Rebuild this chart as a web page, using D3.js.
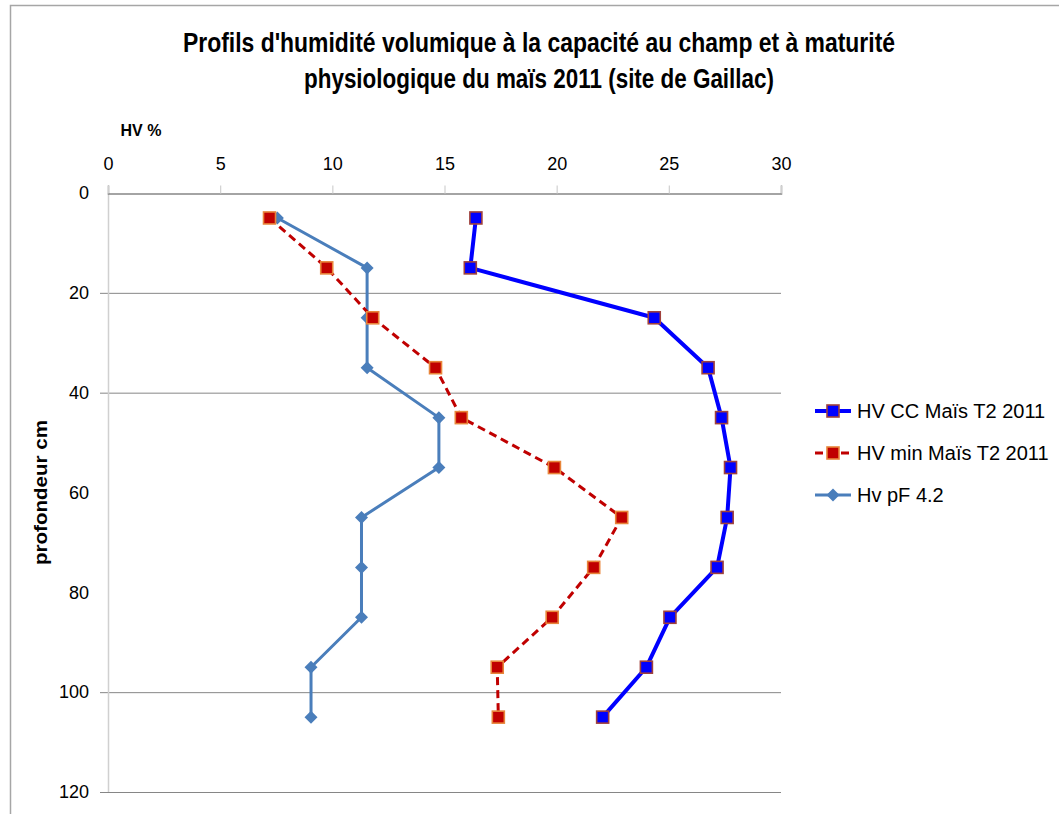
<!DOCTYPE html>
<html>
<head>
<meta charset="utf-8">
<script src="https://cdn.jsdelivr.net/npm/d3@7"></script>
<style>
  html, body { margin: 0; padding: 0; background: #fff; }
  svg { display: block; }
  text { font-family: "Liberation Sans Narrow", "Liberation Sans", Arial, sans-serif; fill: #000; }
</style>
</head>
<body>
<svg id="chart" width="1059" height="814"></svg>
<script>
// Soil depth (cm) of each measurement
const depths = [5, 15, 25, 35, 45, 55, 65, 75, 85, 95, 105];

// Volumetric water content (%) profiles
const hvCC   = [16.4, 16.15, 24.35, 26.75, 27.35, 27.75, 27.6, 27.15, 25.05, 24.0, 22.05];
const hvMin  = [7.2, 9.75, 11.8, 14.6, 15.75, 19.9, 22.9, 21.65, 19.8, 17.35, 17.4];
const hvPF42 = [7.55, 11.55, 11.55, 11.55, 14.75, 14.75, 11.3, 11.3, 11.3, 9.05, 9.05];

const seriesNames = ["HV CC Maïs T2 2011", "HV min Maïs T2 2011", "Hv pF 4.2"];

const xTicks = [0, 5, 10, 15, 20, 25, 30];
const yTicks = [0, 20, 40, 60, 80, 100, 120];
const yGrid  = [20, 40, 100, 120];

const titleLines = [
  "Profils d'humidité volumique à la capacité au champ et à maturité",
  "physiologique du maïs 2011 (site de Gaillac)"
];

const svg = d3.select("#chart");

// outer frame of the chart area
svg.append("path")
  .attr("d", "M10.5,814 V5.5 H1059")
  .attr("fill", "none").attr("stroke", "#a6a6a6").attr("stroke-width", 1.5);

const x = d3.scaleLinear().domain([0, 30]).range([108, 781]);
const y = d3.scaleLinear().domain([0, 120]).range([193, 792]);

// horizontal gridlines
svg.append("g").selectAll("line").data(yGrid).join("line")
  .attr("x1", 100).attr("x2", x(30))
  .attr("y1", d => y(d) + 0.5).attr("y2", d => y(d) + 0.5)
  .attr("stroke", "#868686").attr("stroke-width", 1);

// left vertical axis line
svg.append("line")
  .attr("x1", x(0) + 0.5).attr("x2", x(0) + 0.5)
  .attr("y1", y(0)).attr("y2", y(120))
  .attr("stroke", "#d0d0d0").attr("stroke-width", 1.5);

// top x axis
const xAxis = d3.axisTop(x).tickValues(xTicks).tickSize(8).tickPadding(16).tickFormat(d3.format("d"));
const gx = svg.append("g").attr("transform", `translate(0,${y(0) + 0.5})`).call(xAxis);
gx.select(".domain").attr("stroke", "#868686").attr("stroke-width", 1.5);
gx.selectAll(".tick line").attr("stroke", "#d0d0d0").attr("stroke-width", 1.2);
gx.selectAll(".tick text").attr("font-size", 18).attr("fill", "#000")
  .style("font-family", "\"Liberation Sans Narrow\", \"Liberation Sans\", sans-serif");

// left y axis labels (depth increasing downward)
const yAxis = d3.axisLeft(y).tickValues(yTicks).tickSize(0).tickPadding(19).tickFormat(d3.format("d"));
const gy = svg.append("g").attr("transform", `translate(${x(0)},0)`).call(yAxis);
gy.select(".domain").remove();
gy.selectAll(".tick text").attr("font-size", 18).attr("fill", "#000")
  .style("font-family", "\"Liberation Sans Narrow\", \"Liberation Sans\", sans-serif");

// titles
svg.append("g").selectAll("text").data(titleLines).join("text")
  .attr("x", 539).attr("y", (d, i) => 52 + i * 36)
  .attr("text-anchor", "middle")
  .attr("font-size", 27).attr("font-weight", "bold")
  .attr("textLength", (d, i) => i === 0 ? 712 : 470)
  .attr("lengthAdjust", "spacingAndGlyphs")
  .text(d => d);

svg.append("text").attr("x", 141).attr("y", 136)
  .attr("text-anchor", "middle").attr("font-size", 16).attr("font-weight", "bold")
  .text("HV %");

svg.append("text")
  .attr("transform", `translate(47,${(y(0) + y(120)) / 2}) rotate(-90)`)
  .attr("text-anchor", "middle").attr("font-size", 18).attr("font-weight", "bold")
  .attr("textLength", 145).attr("lengthAdjust", "spacingAndGlyphs")
  .text("profondeur cm");

// series definitions
const series = [
  { name: seriesNames[0], values: hvCC,   stroke: "#0000FF", width: 4, dash: null,  marker: "square",  fill: "#0000FF", mstroke: "#A0413C", size: 12 },
  { name: seriesNames[1], values: hvMin,  stroke: "#C00000", width: 3, dash: "8,5", marker: "square",  fill: "#C00000", mstroke: "#E8853A", size: 12 },
  { name: seriesNames[2], values: hvPF42, stroke: "#4A7EBB", width: 3, dash: null,  marker: "diamond", fill: "#4A7EBB", mstroke: "#4A7EBB", size: 13 }
];

const line = d3.line().x(d => x(d.v)).y(d => y(d.d));

function drawMarker(g, s, cx, cy) {
  const h = s.size / 2;
  if (s.marker === "square") {
    g.append("rect").attr("x", cx - h).attr("y", cy - h)
      .attr("width", s.size).attr("height", s.size)
      .attr("fill", s.fill).attr("stroke", s.mstroke).attr("stroke-width", 1.6);
  } else {
    g.append("path")
      .attr("d", `M${cx},${cy - h} L${cx + h},${cy} L${cx},${cy + h} L${cx - h},${cy} Z`)
      .attr("fill", s.fill);
  }
}

// draw in reverse so the first series sits on top
series.slice().reverse().forEach(s => {
  const pts = depths.map((d, i) => ({ d: d, v: s.values[i] }));
  const g = svg.append("g");
  g.append("path").datum(pts).attr("d", line)
    .attr("fill", "none").attr("stroke", s.stroke).attr("stroke-width", s.width)
    .attr("stroke-dasharray", s.dash).attr("stroke-linejoin", "round");
  pts.forEach(p => drawMarker(g, s, x(p.v), y(p.d)));
});

// legend
const legend = svg.append("g");
series.forEach((s, i) => {
  const ly = 411 + i * 42;
  const g = legend.append("g");
  g.append("line").attr("x1", 815).attr("x2", 851).attr("y1", ly).attr("y2", ly)
    .attr("stroke", s.stroke).attr("stroke-width", s.width).attr("stroke-dasharray", s.dash);
  drawMarker(g, s, 833, ly);
  g.append("text").attr("x", 857).attr("y", ly + 7).attr("font-size", 20).text(s.name);
});
</script>
</body>
</html>
